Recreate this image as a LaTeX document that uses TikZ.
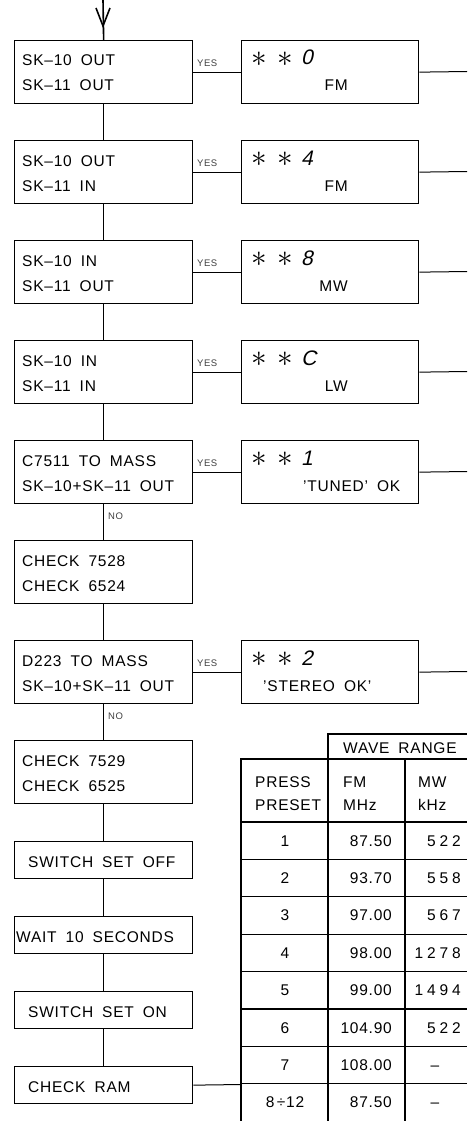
\documentclass[tikz,border=0pt]{standalone}
\usepackage{fontspec}
\usepackage{graphicx}
\setmainfont{Liberation Sans}[LetterSpace=5]
\newfontfamily\widefont{Liberation Sans}[LetterSpace=25]
\newfontfamily\segfont{Liberation Sans}[FakeSlant=0.22]
\newcommand\gp{\hspace{9pt}}
\newcommand\qt{{\char"27}}
\newcommand\bigast{\scalebox{1.5}{$\ast$}}
\newcommand\mainsize{\fontsize{15.5}{18}\selectfont}
\newcommand\lboxtwo[4]{%
  \node[box,minimum width=178,minimum height=63,anchor=north west] (#1) at (14,#2) {};
  \node[txt] (#1a) at (22,#2+26) {#3};
  \node[txt] (#1b) at (22,#2+51) {#4};}
\newcommand\lboxone[4]{%
  \node[box,minimum width=178,minimum height=37,anchor=north west] (#1) at (14,#2) {};
  \node[txt] (#1a) at (#3,#2+26) {#4};}
\newcommand\dbox[4]{% name, top, digit, extra
  \node[box,minimum width=177,minimum height=63,anchor=north west] (#1) at (241,#2) {};
  \node[astx] (#1s1) at (259,#2+19) {\bigast};
  \node[astx] (#1s2) at (285,#2+19) {\bigast};
  \node[dig] (#1d) at (301,#2+25) {#3};
  #4}
\begin{document}
\begin{tikzpicture}[x=1pt,y=-1pt,
  box/.style={draw,line width=1.3pt,rectangle,inner sep=0pt},
  txt/.style={anchor=base west,inner sep=0pt,font=\mainsize},
  astx/.style={inner sep=0pt,font=\fontsize{20.74}{22}\selectfont},
  dig/.style={anchor=base west,inner sep=0pt,font=\segfont\fontsize{21}{21}\selectfont},
  small/.style={anchor=base west,inner sep=0pt,font=\fontsize{9.5}{10}\selectfont,text=black!75},
  vconn/.style={line width=1.6pt},
  hconn/.style={line width=1.0pt},
  tl/.style={line width=1.3pt},
]
\useasboundingbox (0,0) rectangle (467,1121);

% entry arrow
\coordinate (start) at (103,0);
\coordinate (tip) at (103,26);

% left column
\lboxtwo{b1}{40}{SK–10\gp OUT}{SK–11\gp OUT}
\lboxtwo{b2}{140}{SK–10\gp OUT}{SK–11\gp IN}
\lboxtwo{b3}{240}{SK–10\gp IN}{SK–11\gp OUT}
\lboxtwo{b4}{340}{SK–10\gp IN}{SK–11\gp IN}
\lboxtwo{b5}{440}{C7511\gp TO\gp MASS}{SK–10+SK–11\gp OUT}
\lboxtwo{b6}{540}{CHECK\gp 7528}{CHECK\gp 6524}
\lboxtwo{b7}{640}{D223\gp TO\gp MASS}{SK–10+SK–11\gp OUT}
\lboxtwo{b8}{740}{CHECK\gp 7529}{CHECK\gp 6525}
\lboxone{b9}{841}{28}{SWITCH\gp SET\gp OFF}
\lboxone{b10}{916}{16}{WAIT\gp 10\gp SECONDS}
\lboxone{b11}{991}{28}{SWITCH\gp SET\gp ON}
\lboxone{b12}{1066}{28}{CHECK\gp RAM}

% display boxes
\dbox{d1}{40}{0}{\node[txt,anchor=base east] (d1t) at (348,91) {FM};}
\dbox{d2}{140}{4}{\node[txt,anchor=base east] (d2t) at (348,191) {FM};}
\dbox{d3}{240}{8}{\node[txt,anchor=base east] (d3t) at (348,291) {MW};}
\dbox{d4}{340}{C}{\node[txt,anchor=base east] (d4t) at (348,391) {LW};}
\dbox{d5}{440}{1}{\node[txt] (d5t) at (303,491) {\qt TUNED\qt\gp OK};}
\dbox{d7}{640}{2}{\node[txt] (d7t) at (263,691) {\qt STEREO\gp OK\qt};}

% connectors
\draw[vconn] (start) -- (b1.north);
\draw[vconn] ([shift={(-7,-18)}]tip) -- (tip) -- ([shift={(7,-18)}]tip);
\foreach \a/\b in {b1/b2,b2/b3,b3/b4,b4/b5,b5/b6,b6/b7,b7/b8,b8/b9,b9/b10,b10/b11,b11/b12}
  \draw[vconn] (\a.south) -- (\b.north);

\foreach \i/\t in {1/40,2/140,3/240,4/340,5/440,7/640}{
  \draw[hconn] (b\i.east) -- (d\i.west);
  \node[small] (yes\i) at (197,\t+26.5) {YES};
  \coordinate (o\i) at (467,\t+31.5);
  \draw[hconn] (d\i.east) -- (o\i);
}
\node[small,anchor=west] (no1) at (108,516) {NO};
\node[small,anchor=west] (no2) at (108,716) {NO};

% table
\draw[tl] (328,1121) -- (328,734) -- (467,734);
\draw[tl] (241,1121) -- (241,759) -- (467,759);
\draw[tl] (405,759) -- (405,1121);
\foreach \k in {0,...,7}
  \draw[tl] (241,{822+37.4*\k}) -- (467,{822+37.4*\k});
\coordinate (tabin) at (241,1084.5);
\draw[hconn] (b12.east) -- (tabin);

\node[txt] (hwr) at (343,753) {WAVE\gp RANGE};
\node[txt] (hp1) at (255,787) {PRESS};
\node[txt] (hp2) at (255,810) {PRESET};
\node[txt] (hf1) at (343,787) {FM};
\node[txt] (hf2) at (343,810) {MHz};
\node[txt] (hm1) at (418,787) {MW};
\node[txt] (hm2) at (418,810) {kHz};

\foreach \k/\p/\f/\m in {0/1/87.50/522,1/2/93.70/558,2/3/97.00/567,3/4/98.00/1278,4/5/99.00/1494,5/6/104.90/522}{
  \node[txt,anchor=base] (p\k) at (285,{822+37.4*\k+24.1}) {\p};
  \node[txt,anchor=base east] (f\k) at (392,{822+37.4*\k+24.1}) {\f};
  \node[txt,anchor=base east,font=\widefont\mainsize] (m\k) at (461,{822+37.4*\k+24.1}) {\m};
}
\node[txt,anchor=base] (p6) at (285,{822+37.4*6+24.1}) {7};
\node[txt,anchor=base east] (f6) at (392,{822+37.4*6+24.1}) {108.00};
\node[txt,anchor=base] (m6) at (435,{822+37.4*6+24.1}) {–};
\node[txt,anchor=base] (p7) at (285,{822+37.4*7+24.1}) {8\,÷12};
\node[txt,anchor=base east] (f7) at (392,{822+37.4*7+24.1}) {87.50};
\node[txt,anchor=base] (m7) at (435,{822+37.4*7+24.1}) {–};
\end{tikzpicture}
\end{document}
